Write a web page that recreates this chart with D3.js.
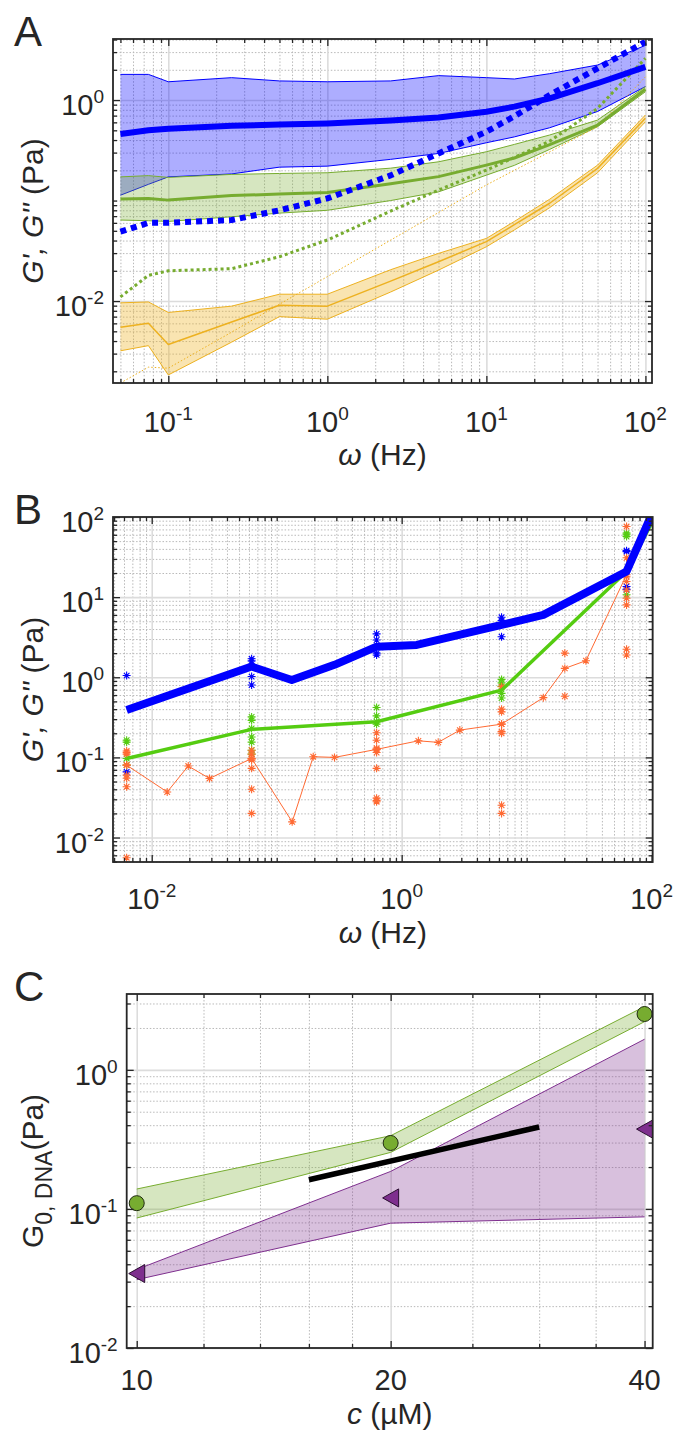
<!DOCTYPE html>
<html>
<head>
<meta charset="utf-8">
<script src="https://cdn.jsdelivr.net/npm/d3@7"></script>
<style>
  body { margin: 0; background: #fff; }
  svg text { font-family: "Liberation Sans", Arial, Helvetica, sans-serif; fill: #262626; }
</style>
</head>
<body>
<svg id="fig" width="673" height="1437"></svg>
<script>
// ---------- Panel A: shear moduli vs frequency ----------
const freqA = [0.05, 0.075, 0.1, 0.25, 0.5, 1, 2.5, 5, 10, 15, 25, 50, 100]
const blueHiA = [1.8, 1.8, 1.52, 1.67, 1.55, 1.52, 1.55, 1.75, 1.67, 1.62, 1.83, 2.23, 3.5]
const blueLoA = [0.113, 0.145, 0.172, 0.184, 0.215, 0.22, 0.257, 0.294, 0.376, 0.43, 0.53, 0.77, 1.36]
const blueMeanA = [0.459, 0.5, 0.518, 0.555, 0.57, 0.586, 0.625, 0.672, 0.765, 0.86, 1.04, 1.47, 2.14]
const blueDotA = [0.049, 0.06, 0.06, 0.064, 0.08, 0.105, 0.178, 0.294, 0.484, 0.69, 1.12, 2.07, 3.8]
const greenHiA = [0.172, 0.177, 0.17, 0.182, 0.186, 0.189, 0.21, 0.243, 0.306, 0.362, 0.449, 0.632, 1.36]
const greenLoA = [0.064, 0.063, 0.062, 0.069, 0.075, 0.08, 0.1, 0.122, 0.179, 0.224, 0.323, 0.543, 1.21]
const greenMeanA = [0.1035, 0.105, 0.101, 0.112, 0.116, 0.12, 0.147, 0.173, 0.225, 0.265, 0.36, 0.564, 1.28]
const greenDotA = [0.011, 0.018, 0.02, 0.021, 0.0276, 0.0405, 0.0786, 0.127, 0.201, 0.269, 0.39, 0.826, 2.6]
const orangeHiA = [0.0096, 0.0098, 0.0077, 0.0089, 0.0117, 0.0117, 0.0205, 0.0298, 0.042, 0.062, 0.103, 0.225, 0.71]
const orangeLoA = [0.0032, 0.0036, 0.00184, 0.0039, 0.007, 0.0066, 0.0123, 0.0203, 0.0347, 0.051, 0.085, 0.189, 0.608]
const orangeMeanA = [0.0055, 0.006, 0.0037, 0.0062, 0.0091, 0.0089, 0.0158, 0.0246, 0.039, 0.0575, 0.094, 0.209, 0.658]
const orangeDotA = [0.00153, 0.0022, 0.00215, 0.0049, 0.0093, 0.0175, 0.0404, 0.076, 0.143, 0.2, 0.305, 0.543, 1.7]

// ---------- Panel B: individual measurements ----------
const omegaBlueB = [0.0063, 0.063, 0.132, 0.29, 0.63, 1.32, 6.3, 13.6, 63, 100]
const gBlueB = [0.39, 1.36, 0.925, 1.43, 2.41, 2.53, 4.5, 6.0, 20.9, 107]
const omegaGreenB = [0.0063, 0.063, 0.63, 6.3, 63, 100]
const gGreenB = [0.097, 0.224, 0.279, 0.69, 20.9, 84]
const omegaOrangeB = [0.0063, 0.0133, 0.0196, 0.029, 0.063, 0.133, 0.196, 0.29, 0.63, 1.36, 1.96, 2.92, 6.3, 13.6, 20.2, 29.8, 63, 100]
const gOrangeB = [0.08, 0.037, 0.078, 0.0546, 0.097, 0.0157, 0.102, 0.1, 0.126, 0.161, 0.154, 0.219, 0.26, 0.557, 1.29, 1.61, 19, 84]
const starOmegaB = [0.0063, 0.063, 0.63, 6.3, 63]
const starsBlueB = [[1.05, 0.066], [1.7, 1.6, 1.02, 0.8], [3.48, 2.92, 2.0, 1.9], [5.6, 5.1, 3.2], [38, 37, 13.6, 12.5]]
const starsGreenB = [[0.164, 0.155, 0.097, 0.08], [0.32, 0.29, 0.23, 0.18, 0.155, 0.123, 0.11], [0.42, 0.33, 0.28, 0.26], [0.94, 0.85, 0.77, 0.63, 0.55], [63, 60, 57, 10.7]]
const starOmegaOrangeB = [0.0063, 0.063, 0.63, 6.3, 20.2, 63]
const starsOrangeB = [
  [0.12, 0.115, 0.11, 0.08, 0.06, 0.055, 0.043, 0.0056],
  [0.123, 0.11, 0.097, 0.093, 0.073, 0.04, 0.02],
  [0.203, 0.164, 0.13, 0.125, 0.115, 0.073, 0.031, 0.029, 0.028],
  [0.76, 0.4, 0.37, 0.26, 0.21, 0.2, 0.0253, 0.02],
  [2.0, 0.58],
  [76, 31, 18, 15.7, 12.3, 9.7, 8.0, 2.24, 1.9]
]

// ---------- Panel C: plateau modulus vs concentration ----------
const concC = [10, 20, 40]
const greenHiC = [0.139, 0.336, 2.85]
const greenLoC = [0.086, 0.255, 2.22]
const greenPtsC = [0.11, 0.298, 2.52]
const purpleHiC = [0.0367, 0.186, 1.66]
const purpleLoC = [0.031, 0.079, 0.0877]
const purplePtsC = [0.0343, 0.12, 0.375]
const fitConcC = [16, 30]
const fitC = [0.162, 0.388]

// MATLAB default-ish colours
const BLUE = "#0000ff"
const GREEN = "#77ac30"
const ORANGE = "#edb120"
const PURPLE = "#7e2f8e"
const LIME = "#55cc11"
const RED = "#ff6a33"
const AX = "#262626"

const svg = d3.select("#fig")

const logMinor = (domain, major) => {
  const out = []
  for (let k = Math.floor(Math.log10(domain[0])); k <= Math.ceil(Math.log10(domain[1])); k++) {
    for (let m = 1; m < 10; m++) {
      const v = m * Math.pow(10, k)
      if (v >= domain[0] && v <= domain[1] && !major.some(t => Math.abs(t - v) / v < 1e-6)) out.push(v)
    }
  }
  return out
}

const pow10 = (sel, v) => {
  sel.append("tspan").text("10")
  sel.append("tspan").attr("dy", -12).attr("font-size", 19).text(Math.round(Math.log10(v)))
}

const makePanel = (o) => {
  const x = d3.scaleLog().domain(o.xDomain).range([o.left, o.right])
  const y = d3.scaleLog().domain(o.yDomain).range([o.bottom, o.top])
  const w = o.right - o.left
  const h = o.bottom - o.top
  o.xMinor = o.xMinor || logMinor(o.xDomain, o.xGrid)
  o.yMinor = o.yMinor || logMinor(o.yDomain, o.yGrid)
  const g = svg.append("g")

  const grid = (axis, tr, vals, size, dotted) => {
    g.append("g").attr("transform", tr)
      .call(axis.tickValues(vals).tickSize(size).tickFormat(""))
      .call(s => s.select(".domain").remove())
      .selectAll("line")
      .attr("stroke", dotted ? "#b9b9b9" : "#dcdcdc")
      .attr("stroke-width", dotted ? 1 : 1.6)
      .attr("stroke-dasharray", dotted ? "1.5,1.8" : null)
  }
  grid(d3.axisBottom(x), `translate(0,${o.bottom})`, o.xMinor, -h, true)
  grid(d3.axisLeft(y), `translate(${o.left},0)`, o.yMinor, -w, true)
  grid(d3.axisBottom(x), `translate(0,${o.bottom})`, o.xGrid, -h, false)
  grid(d3.axisLeft(y), `translate(${o.left},0)`, o.yGrid, -w, false)

  const clipId = "clip" + o.name
  svg.append("clipPath").attr("id", clipId).append("rect")
    .attr("x", o.left).attr("y", o.top).attr("width", w).attr("height", h)
  const plot = g.append("g").attr("clip-path", `url(#${clipId})`)
  return {x, y, g, plot, o}
}

const drawFrame = (p) => {
  const {x, y, g, o} = p
  const ticks = (axis, tr, vals, size) => {
    g.append("g").attr("transform", tr)
      .call(axis.tickValues(vals).tickSizeInner(size).tickSizeOuter(0).tickFormat(""))
      .call(s => s.select(".domain").remove())
      .selectAll("line").attr("stroke", AX).attr("stroke-width", 1.3)
  }
  const xAll = [[o.xTicks, -7], [o.xMinor, -4]]
  const yAll = [[o.yTicks, -7], [o.yMinor, -4]]
  for (const [vals, s] of xAll) {
    ticks(d3.axisBottom(x), `translate(0,${o.bottom})`, vals, s)
    ticks(d3.axisTop(x), `translate(0,${o.top})`, vals, s)
  }
  for (const [vals, s] of yAll) {
    ticks(d3.axisLeft(y), `translate(${o.left},0)`, vals, s)
    ticks(d3.axisRight(y), `translate(${o.right},0)`, vals, s)
  }
  g.append("rect")
    .attr("x", o.left).attr("y", o.top)
    .attr("width", o.right - o.left).attr("height", o.bottom - o.top)
    .attr("fill", "none").attr("stroke", AX).attr("stroke-width", 1.8)

  // tick labels
  g.selectAll(null).data(o.xTicks).join("text")
    .attr("x", d => x(d)).attr("y", o.bottom + o.xLabelGap)
    .attr("text-anchor", "middle").attr("font-size", 29)
    .each(function (d) {
      if (o.plainX) d3.select(this).text(d)
      else pow10(d3.select(this), d)
    })
  g.selectAll(null).data(o.yTicks).join("text")
    .attr("x", o.left - 9).attr("y", d => y(d) + 15)
    .attr("text-anchor", "end").attr("font-size", 29)
    .each(function (d) { pow10(d3.select(this), d) })

  // axis labels
  const xl = g.append("text")
    .attr("x", (o.left + o.right) / 2).attr("y", o.bottom + o.xTitleGap)
    .attr("text-anchor", "middle").attr("font-size", 30)
  xl.append("tspan").attr("font-style", "italic").text(o.xTitle[0])
  xl.append("tspan").text(o.xTitle[1])

  const yl = g.append("text")
    .attr("transform", `translate(${o.yTitleX},${(o.top + o.bottom) / 2}) rotate(-90)`)
    .attr("text-anchor", "middle").attr("font-size", 30)
  o.yTitle(yl)

  g.append("text").attr("x", 14).attr("y", o.top + 7)
    .attr("font-size", 42).text(o.name)
}

const band = (p, xs, lo, hi, color, opacity) => {
  const pts = xs.map((v, i) => [v, lo[i], hi[i]])
  p.plot.append("path").datum(pts)
    .attr("d", d3.area().x(d => p.x(d[0])).y0(d => p.y(d[1])).y1(d => p.y(d[2])))
    .attr("fill", color).attr("fill-opacity", opacity).attr("stroke", "none")
  for (const k of [1, 2]) {
    p.plot.append("path").datum(pts)
      .attr("d", d3.line().x(d => p.x(d[0])).y(d => p.y(d[k])))
      .attr("fill", "none").attr("stroke", color).attr("stroke-width", 1)
  }
}

const line = (p, xs, ys, color, width, dash) => {
  p.plot.append("path").datum(xs.map((v, i) => [v, ys[i]]))
    .attr("d", d3.line().x(d => p.x(d[0])).y(d => p.y(d[1])))
    .attr("fill", "none").attr("stroke", color).attr("stroke-width", width)
    .attr("stroke-linejoin", "round")
    .attr("stroke-dasharray", dash || null)
}

const starPath = "M-4,0H4M0,-4V4M-2.8,-2.8L2.8,2.8M-2.8,2.8L2.8,-2.8"
const stars = (p, pts, color) => {
  p.plot.selectAll(null).data(pts).join("path")
    .attr("transform", d => `translate(${p.x(d[0])},${p.y(d[1])})`)
    .attr("d", starPath).attr("stroke", color).attr("stroke-width", 1.1).attr("fill", "none")
}

const gLabel = (t) => {
  t.append("tspan").attr("font-style", "italic").text("G', G''")
  t.append("tspan").text(" (Pa)")
}

// ---------------- Panel A ----------------
const pA = makePanel({
  name: "A", left: 113, right: 652, top: 39, bottom: 383,
  xDomain: [0.0449, 110], yDomain: [0.00153, 4.05],
  xTicks: [0.1, 1, 10, 100], xGrid: [0.1, 1, 10, 100],
  yTicks: [0.01, 1], yGrid: [0.01, 1],
  xLabelGap: 49, xTitleGap: 82, yTitleX: 43,
  xTitle: ["\u03c9", " (Hz)"], yTitle: gLabel
})
band(pA, freqA, blueLoA, blueHiA, BLUE, 0.32)
band(pA, freqA, greenLoA, greenHiA, GREEN, 0.3)
band(pA, freqA, orangeLoA, orangeHiA, ORANGE, 0.35)
line(pA, freqA, orangeDotA, ORANGE, 1, "1.5,2")
line(pA, freqA, orangeMeanA, ORANGE, 1.5)
line(pA, freqA, greenDotA, GREEN, 3, "3,3")
line(pA, freqA, greenMeanA, GREEN, 3)
line(pA, freqA, blueDotA, BLUE, 6, "6,5")
line(pA, freqA, blueMeanA, BLUE, 6)
drawFrame(pA)

// ---------------- Panel B ----------------
const pB = makePanel({
  name: "B", left: 113, right: 652.7, top: 517, bottom: 862,
  xDomain: [0.0049, 102], yDomain: [0.00495, 100],
  xTicks: [0.01, 1, 100], xGrid: [0.01, 1, 100],
  yTicks: [0.01, 0.1, 1, 10, 100], yGrid: [0.01, 0.1, 1, 10, 100],
  xLabelGap: 47, xTitleGap: 81, yTitleX: 43,
  xTitle: ["\u03c9", " (Hz)"], yTitle: gLabel
})
const colPts = (omegas, cols) => cols.flatMap((c, i) => c.map(v => [omegas[i], v]))
stars(pB, colPts(starOmegaB, starsBlueB), BLUE)
stars(pB, colPts(starOmegaB, starsGreenB), LIME)
stars(pB, colPts(starOmegaOrangeB, starsOrangeB), RED)
line(pB, omegaOrangeB, gOrangeB, RED, 1)
stars(pB, omegaOrangeB.map((v, i) => [v, gOrangeB[i]]), RED)
line(pB, omegaGreenB, gGreenB, LIME, 3.5)
line(pB, omegaBlueB, gBlueB, BLUE, 8)
drawFrame(pB)

// ---------------- Panel C ----------------
const pC = makePanel({
  name: "C", left: 126.7, right: 652.7, top: 994, bottom: 1348,
  xDomain: [9.73, 40.9], yDomain: [0.01, 3.51],
  xTicks: [10, 20, 40], xGrid: [10, 20, 40], xMinor: [12, 14, 16, 18, 25, 30, 35],
  yTicks: [0.01, 0.1, 1], yGrid: [0.01, 0.1, 1],
  plainX: true, xLabelGap: 42, xTitleGap: 76, yTitleX: 43,
  xTitle: ["c", " (\u00b5M)"],
  yTitle: (t) => {
    t.append("tspan").text("G")
    t.append("tspan").attr("dy", 9).attr("font-size", 23).text("0, DNA")
    t.append("tspan").attr("dy", -9).text("(Pa)")
  }
})
band(pC, concC, purpleLoC, purpleHiC, PURPLE, 0.3)
band(pC, concC, greenLoC, greenHiC, GREEN, 0.3)
line(pC, fitConcC, fitC, "#000", 5.5)
pC.g.selectAll(null).data(concC.map((v, i) => [v, greenPtsC[i]])).join("circle")
  .attr("cx", d => pC.x(d[0])).attr("cy", d => pC.y(d[1])).attr("r", 7.5)
  .attr("fill", GREEN).attr("stroke", "#1f2a10").attr("stroke-width", 1)
pC.g.selectAll(null).data(concC.map((v, i) => [v, purplePtsC[i]])).join("path")
  .attr("transform", d => `translate(${pC.x(d[0])},${pC.y(d[1])})`)
  .attr("d", "M-8,0L8,-9L8,9Z")
  .attr("fill", PURPLE).attr("stroke", "#2a0d30").attr("stroke-width", 1)
drawFrame(pC)
</script>
</body>
</html>
